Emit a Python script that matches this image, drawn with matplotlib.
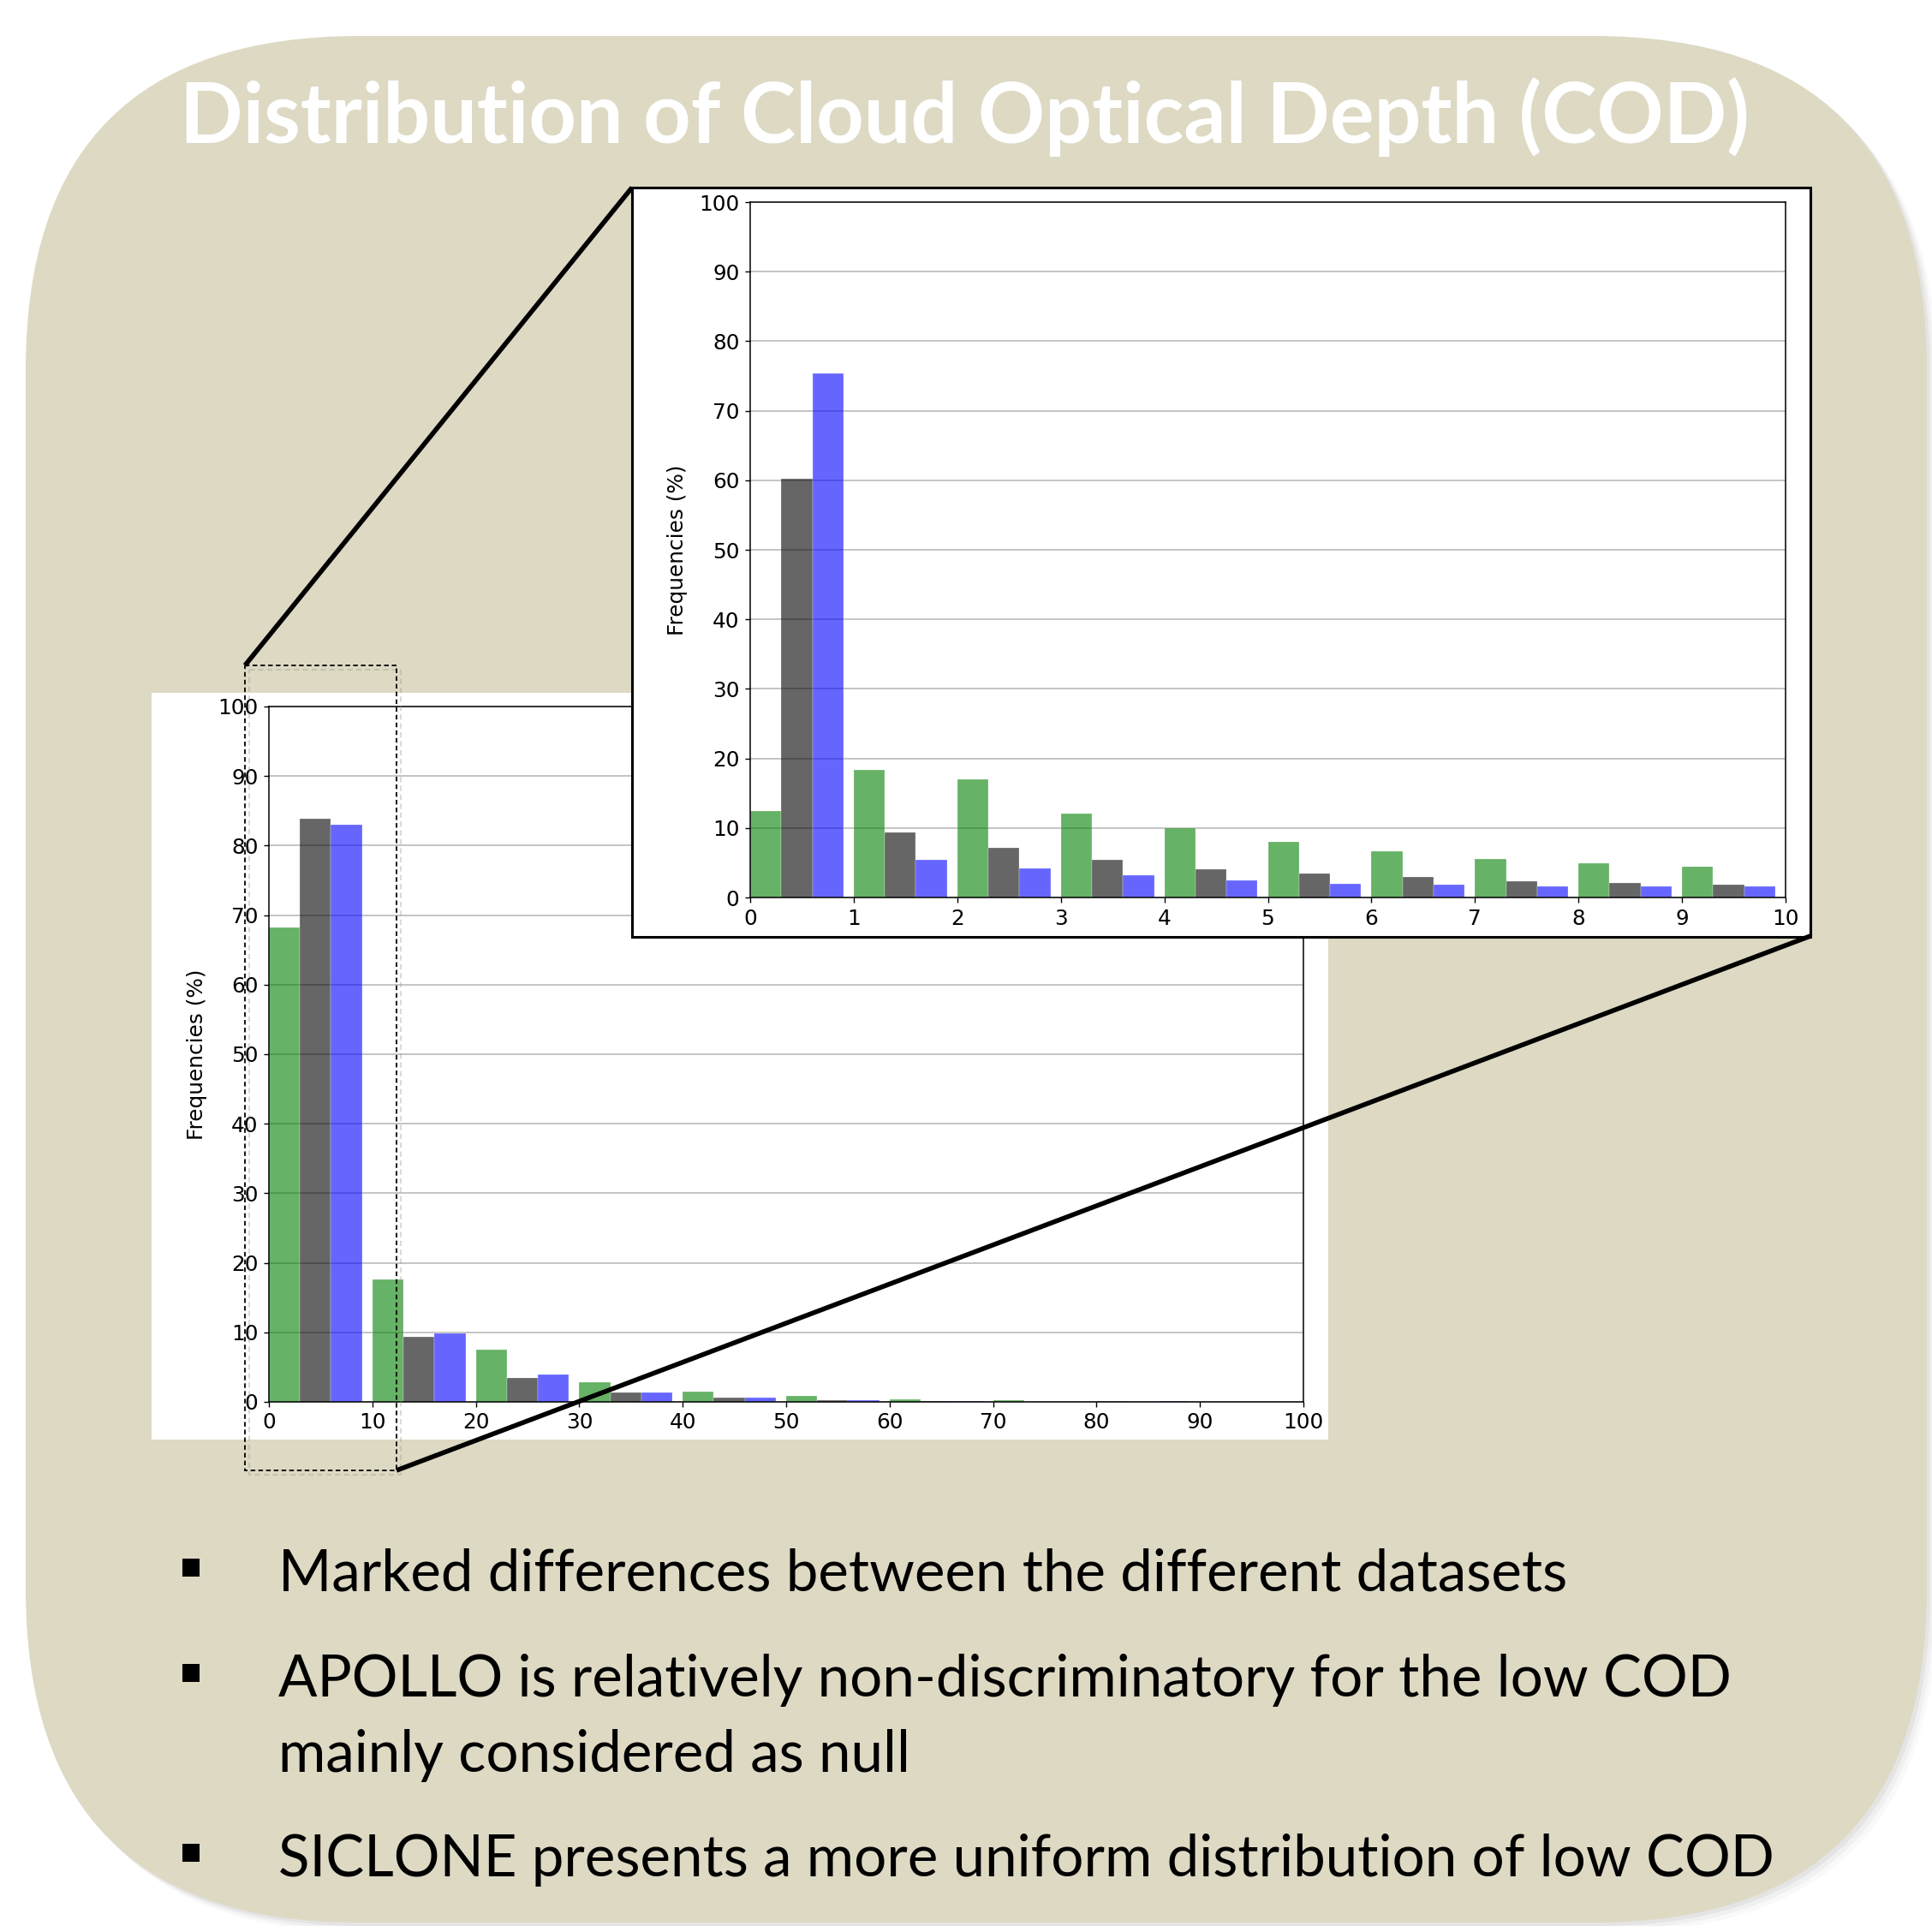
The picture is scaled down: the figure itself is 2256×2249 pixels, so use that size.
import matplotlib
matplotlib.use('Agg')
import matplotlib.pyplot as plt
from matplotlib.patches import FancyBboxPatch, Rectangle
import numpy as np

W, H = 2256, 2249

# main histogram: COD 0-100, bins of 10
main_bins = np.arange(0, 100, 10)
main_green = [68.2, 17.6, 7.5, 2.8, 1.5, 0.88, 0.42, 0.2, 0.1, 0.06]
main_gray = [83.9, 9.3, 3.5, 1.4, 0.6, 0.22, 0.08, 0.03, 0.02, 0.02]
main_blue = [83.0, 9.8, 3.9, 1.35, 0.58, 0.25, 0.16, 0.03, 0.15, 0.02]

# zoomed histogram: COD 0-10, bins of 1
zoom_bins = np.arange(0, 10, 1)
zoom_green = [12.4, 18.4, 17.0, 12.1, 10.0, 8.0, 6.6, 5.6, 4.9, 4.4]
zoom_gray = [60.2, 9.4, 7.2, 5.4, 4.1, 3.4, 2.9, 2.4, 2.1, 1.9]
zoom_blue = [75.4, 5.4, 4.2, 3.2, 2.5, 2.0, 1.8, 1.6, 1.55, 1.55]

title = 'Distribution of Cloud Optical Depth (COD)'
bullets = ['Marked differences between the different datasets',
           'APOLLO is relatively non-discriminatory for the low COD',
           'mainly considered as null',
           'SICLONE presents a more uniform distribution of low COD']
bullet_marks = [True, True, False, True]

fig = plt.figure(figsize=(W / 100, H / 100), dpi=100)
fig.patch.set_facecolor('white')


def overlay(z):
    ax = fig.add_axes([0, 0, 1, 1], zorder=z)
    ax.set_xlim(0, W)
    ax.set_ylim(H, 0)
    ax.axis('off')
    return ax


def px_axes(x0, y0, x1, y1, z):
    return fig.add_axes([x0 / W, 1 - y1 / H, (x1 - x0) / W, (y1 - y0) / H], zorder=z)


def hist_panel(ax, lefts, binw, series, xmax):
    for i, (vals, col) in enumerate(series):
        ax.bar(lefts + i * 0.3 * binw, vals, width=0.3 * binw, align='edge',
               color=col, alpha=0.6, edgecolor='white', linewidth=0.3)
    ax.set_xlim(0, xmax)
    ax.set_ylim(0, 100)
    ax.set_xticks(np.linspace(0, xmax, 11))
    ax.set_xticklabels([str(int(v)) for v in np.linspace(0, xmax, 11)])
    ax.set_yticks(range(0, 101, 10))
    ax.yaxis.grid(True, color='#b4b4b4', lw=1.1)
    ax.set_axisbelow(True)
    for s in ax.spines.values():
        s.set_linewidth(1.1)
    ax.tick_params(labelsize=17.8, length=4, width=1, pad=5, direction='out',
                   top=False, right=False)
    ax.set_ylabel('Frequencies (%)', fontsize=17.8)
    ax.yaxis.set_label_coords(-0.06, 0.5)


# background card
bg = overlay(0)
for off, a in [(12, 0.04), (8, 0.06), (4, 0.09)]:
    bg.add_patch(FancyBboxPatch((30 + off, 42 + off), 2220, 2203,
                                boxstyle='round,pad=0,rounding_size=390',
                                fc='#707070', ec='none', alpha=a))
bg.add_patch(FancyBboxPatch((30, 42), 2220, 2203,
                            boxstyle='round,pad=0,rounding_size=390',
                            fc='#DDD9C3', ec='none'))
bg.add_patch(Rectangle((177, 809), 1374, 872, fc='white', ec='none'))

renderer = fig.canvas.get_renderer()

t = bg.text(1126, 167, title, color='white', fontsize=60, fontweight='bold',
            family=['Lato', 'DejaVu Sans'], ha='center', va='baseline')
t.set_fontsize(60 * 1834 / t.get_window_extent(renderer).width)

# bullet list
baselines = [1858, 1981, 2069, 2191]
texts = []
for s, yb in zip(bullets, baselines):
    texts.append(bg.text(325, yb, s, fontsize=50, family=['Lato', 'DejaVu Sans'],
                         ha='left', va='baseline', color='black'))
fs = 50 * 1747 / texts[3].get_window_extent(renderer).width
for tx in texts:
    tx.set_fontsize(fs)
for mark, yb in zip(bullet_marks, baselines):
    if mark:
        bg.add_patch(Rectangle((213, yb - 38), 20, 21, fc='black', ec='none'))

# main chart
ax1 = px_axes(314, 825, 1522, 1637, 1)
hist_panel(ax1, main_bins, 10, [(main_green, 'green'), (main_gray, 'k'), (main_blue, 'b')], 100)

# inset frame and zoomed chart
fr = overlay(2)
fr.add_patch(Rectangle((738, 219), 1376, 875, fc='white', ec='black', lw=2.2))
ax2 = px_axes(876, 236, 2085, 1048, 3)
hist_panel(ax2, zoom_bins, 1, [(zoom_green, 'green'), (zoom_gray, 'k'), (zoom_blue, 'b')], 10)

# zoom marker and connector lines
top = overlay(4)
top.add_patch(Rectangle((291, 782), 177, 940, fill=False, ec='#9a9886', lw=1.5,
                        ls=(0, (3, 2)), alpha=0.35))
top.add_patch(Rectangle((286, 777), 177, 940, fill=False, ec='black', lw=1.3,
                        ls=(0, (3, 2))))
top.plot([286, 738], [777, 219], color='black', lw=4, solid_capstyle='butt')
top.plot([463, 2114], [1717, 1093], color='black', lw=4, solid_capstyle='butt')

plt.savefig('out.png', dpi=100)
